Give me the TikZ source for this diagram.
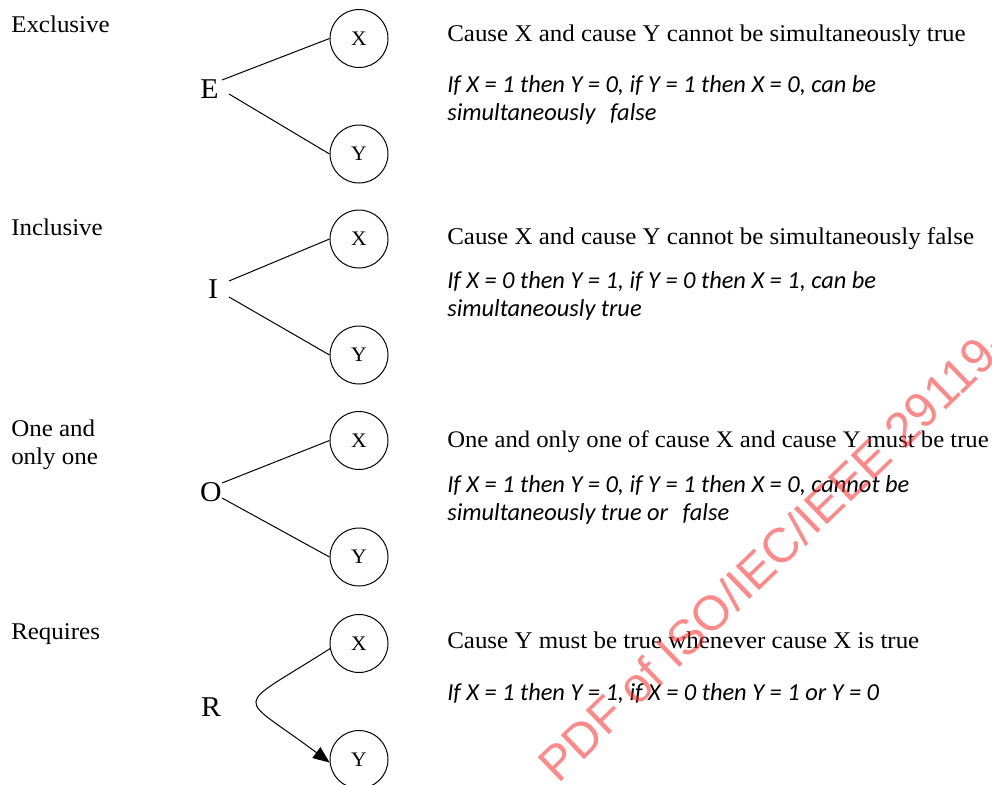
\documentclass[tikz,border=0pt]{standalone}
\usepackage{fontspec}
\setmainfont{Liberation Serif}[FakeStretch=1.04]
\newfontfamily\calfont{Carlito}
\newfontfamily\wmfont{Liberation Sans}
\usetikzlibrary{arrows.meta}
\definecolor{wmred}{RGB}{255,40,40}
\tikzset{
  lbl/.style={anchor=base west, inner sep=0pt, align=left, font=\fontsize{18}{21}\selectfont},
  cause/.style={anchor=base west, inner sep=0pt, font=\fontsize{18}{21}\selectfont},
  rule/.style={anchor=base west, inner sep=0pt, align=left, font=\calfont\itshape\fontsize{18.3}{21}\selectfont},
  big/.style={inner sep=0pt, font=\fontsize{21.5}{24}\selectfont},
  cnode/.style={circle, draw, line width=0.75pt, minimum size=43.5pt, inner sep=0pt, font=\fontsize{15.5}{17}\selectfont},
  conn/.style={line width=0.75pt},
}
\begin{document}
\begin{tikzpicture}[x=0.75pt,y=-0.75pt]
\useasboundingbox (0,0) rectangle (992,785);
% ---------- Exclusive ----------
\node[lbl] (l1) at (11,32) {Exclusive};
\node[big] (E) at (209.5,89) {E};
\node[cnode] (x1) at (359,38.5) {X};
\node[cnode] (y1) at (359,154) {Y};
\coordinate (e1) at (222,80);
\coordinate (e2) at (229,94);
\draw[conn] (e1) -- (x1.west);
\draw[conn] (e2) -- (y1.west);
\node[cause] (c1) at (447,41) {Cause X and cause Y cannot be simultaneously true};
\node[rule] (r1) at (447,120) {If X = 1 then Y = 0, if Y = 1 then X = 0, can be\\simultaneously\hspace{0.6em}false};
% ---------- Inclusive ----------
\node[lbl] (l2) at (11,235) {Inclusive};
\node[big] (I) at (213,289) {I};
\node[cnode] (x2) at (359,239) {X};
\node[cnode] (y2) at (359,355) {Y};
\coordinate (i1) at (229,281);
\coordinate (i2) at (229,297);
\draw[conn] (i1) -- (x2.west);
\draw[conn] (i2) -- (y2.west);
\node[cause] (c2) at (447,244) {Cause X and cause Y cannot be simultaneously false};
\node[rule] (r2) at (447,316) {If X = 0 then Y = 1, if Y = 0 then X = 1, can be\\simultaneously true};
% ---------- One and only one ----------
\node[lbl] (l3) at (11,464) {One and\\only one};
\node[big] (O) at (211,492) {O};
\node[cnode] (x3) at (359,440.5) {X};
\node[cnode] (y3) at (359,557) {Y};
\coordinate (o1) at (222,483);
\coordinate (o2) at (222,498);
\draw[conn] (o1) -- (x3.west);
\draw[conn] (o2) -- (y3.west);
\node[cause, font=\fontsize{17.8}{21}\selectfont] (c3) at (447,447) {One and only one of cause X and cause Y must be true};
\node[rule] (r3) at (447,520) {If X = 1 then Y = 0, if Y = 1 then X = 0, cannot be\\simultaneously true or\hspace{0.6em}false};
% ---------- Requires ----------
\node[lbl] (l4) at (11,639) {Requires};
\node[big] (R) at (211,707) {R};
\node[cnode] (x4) at (359,643.5) {X};
\node[cnode] (y4) at (359,759.5) {Y};
\draw[conn, -{Triangle[length=12.5pt,width=10pt]}] (x4.190) .. controls (231,712) and (236,692) .. (y4.186);
\node[cause] (c4) at (447,648) {Cause Y must be true whenever cause X is true};
\node[rule] (r4) at (447,700) {If X = 1 then Y = 1, if X = 0 then Y = 1 or Y = 0};
% ---------- watermark ----------
\begin{scope}
\clip (0,0) rectangle (992,785);
\node[anchor=base west, inner sep=0pt, rotate=44, text=wmred, opacity=0.55, font=\wmfont\fontsize{36.5}{40}\selectfont] (wm) at (558,785) {PDF of ISO/IEC/IEEE 29119-};
\end{scope}
\end{tikzpicture}
\end{document}
